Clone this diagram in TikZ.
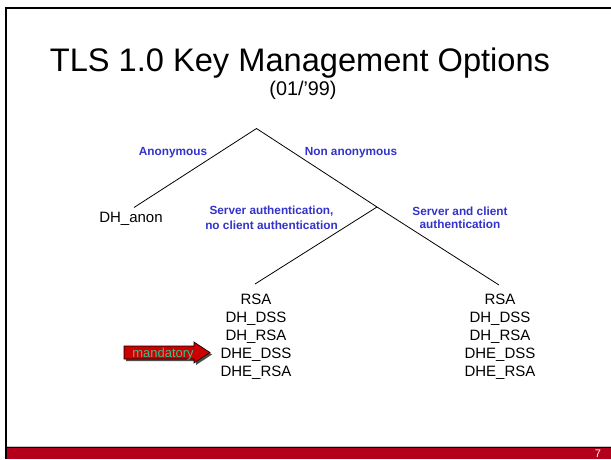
\documentclass[tikz,border=0pt]{standalone}
\usepackage{fontspec}
\setmainfont{Liberation Sans}
\definecolor{lblue}{RGB}{51,51,204}
\definecolor{barred}{RGB}{181,0,28}
\definecolor{arrred}{RGB}{204,0,0}
\definecolor{mgreen}{RGB}{40,200,140}
\begin{document}
\begin{tikzpicture}[x=1pt,y=-1pt,
  lbl/.style={text=lblue,font=\fontsize{11.8}{13}\selectfont\bfseries,inner sep=0pt,anchor=base},
  item/.style={font=\fontsize{15}{17}\selectfont,inner sep=0pt,anchor=base},
  branch/.style={line width=0.8pt,black}]
\useasboundingbox (0,0) rectangle (611,459);
\fill[white] (0,0) rectangle (611,459);
% frame
\draw[line width=2.3pt] (611,7.8) -- (6.1,7.8) -- (6.1,459);
\fill[gray!45] (7.3,445.5) rectangle (611,446.6);
\fill[black] (7.3,446.8) rectangle (611,447.9);
\fill[barred] (7.3,447.9) rectangle (611,459);
\node[text=white,font=\fontsize{11}{12}\selectfont,inner sep=0pt,anchor=base] (pg) at (598,457.3) {7};
% title
\node[font=\fontsize{32.6}{36}\selectfont,inner sep=0pt,anchor=base] (title) at (300,71) {TLS 1.0 Key Management Options};
\node[font=\fontsize{19.8}{22}\selectfont,inner sep=0pt,anchor=base] (date) at (303,95) {(01/’99)};
% tree
\coordinate (apex) at (256.5,128.5);
\coordinate (junc) at (377,207);
\coordinate (lend) at (134,207.5);
\coordinate (mend) at (255,284);
\coordinate (rend) at (499,285);
\draw[branch] (lend) -- (apex) -- (junc) -- (rend);
\draw[branch] (junc) -- (mend);
% labels
\node[lbl] (anon) at (173,155) {Anonymous};
\node[lbl] (nonanon) at (351,155) {Non anonymous};
\node[lbl] (srvA) at (271.5,214.3) {Server authentication,};
\node[lbl] (srvB) at (271.5,229.3) {no client authentication};
\node[lbl] (srvclA) at (460,215) {Server and client};
\node[lbl] (srvclB) at (460,228.5) {authentication};
% leaves
\node[item] (dhanon) at (131,222) {DH\_anon};
\foreach \t [count=\i] in {RSA,DH\_DSS,DH\_RSA,DHE\_DSS,DHE\_RSA}{
  \node[item] (l\i) at (256,{304.5+18*(\i-1)}) {\t};
  \node[item] (r\i) at (500,{304.5+18*(\i-1)}) {\t};
}
% mandatory arrow
\fill[black!70] (126,348) -- (196,348) -- (196,344) -- (212,354.5) -- (196,365) -- (196,361) -- (126,361) -- cycle;
\filldraw[fill=arrred,draw=black,line width=0.6pt] (124,346) -- (194,346) -- (194,342) -- (210,352.5) -- (194,363) -- (194,359) -- (124,359) -- cycle;
\node[text=mgreen,font=\fontsize{13}{14}\selectfont,inner sep=0pt,anchor=base] (mand) at (163,357) {mandatory};
\end{tikzpicture}
\end{document}
